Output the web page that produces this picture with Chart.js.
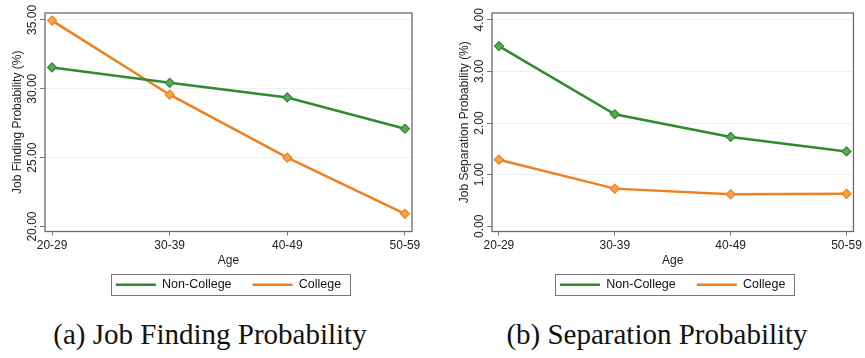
<!DOCTYPE html>
<html>

<head>
    <meta charset="utf-8">
    <title>Job Finding and Separation by Age</title>
    <style>
        body { margin: 0; background: #fff; }
        .wrap { position: relative; width: 865px; height: 358px; }
        .box { position: absolute; top: 0; height: 305px; }
        .caption {
            position: absolute; top: 316px; width: 400px; text-align: center;
            font-family: "Liberation Serif", "DejaVu Serif", serif; font-size: 29px; line-height: 36px; color: #111;
        }
    </style>
</head>

<body>
    <div class="wrap">
        <div class="box" style="left:0;width:432px"><canvas id="chartFind"></canvas></div>
        <div class="box" style="left:432px;width:433px"><canvas id="chartSep"></canvas></div>
        <div class="caption" style="left:10px">(a) Job Finding Probability</div>
        <div class="caption" style="left:457px">(b) Separation Probability</div>
    </div>
    <script src="https://cdn.jsdelivr.net/npm/chart.js@4.4.6/dist/chart.umd.min.js"></script>
    <script>
        const ageGroups = ["20-29", "30-39", "40-49", "50-59"]
        const seriesNames = ["Non-College", "College"]

        const findNonCollege = [31.55, 30.43, 29.37, 27.10]
        const findCollege = [34.95, 29.57, 25.00, 20.92]
        const findTicks = [20, 25, 30, 35]

        const sepNonCollege = [3.49, 2.17, 1.73, 1.45]
        const sepCollege = [1.29, 0.73, 0.62, 0.63]
        const sepTicks = [0, 1, 2, 3, 4]

        const GREEN = "#2f8a31"
        const GREEN_FILL = "#5ea45c"
        const ORANGE = "#f0801f"
        const ORANGE_FILL = "#f6a048"
        const FONT = "'Liberation Sans', Arial, sans-serif"

        // draws the frame round the plot, the rotated y labels and the legend box
        const decorPlugin = {
            id: "decor",
            afterDraw(chart) {
                const ctx = chart.ctx
                const a = chart.chartArea
                ctx.save()
                ctx.strokeStyle = "#6b6b6b"
                ctx.lineWidth = 1.3
                ctx.strokeRect(a.left, a.top, a.right - a.left, a.bottom - a.top)

                const y = chart.scales.y
                ctx.fillStyle = "#222"
                ctx.font = "12px " + FONT
                ctx.textAlign = "center"
                ctx.textBaseline = "middle"
                y.ticks.forEach(t => {
                    const py = y.getPixelForValue(t.value)
                    ctx.save()
                    ctx.translate(a.left - 12, py)
                    ctx.rotate(-Math.PI / 2)
                    ctx.fillText(t.value.toFixed(2), 0, 0)
                    ctx.restore()
                })

                const hb = chart.legend.legendHitBoxes
                if (hb && hb.length) {
                    const l = Math.min(...hb.map(h => h.left)) - 5
                    const r = Math.max(...hb.map(h => h.left + h.width)) + 9
                    const cy = hb[0].top + hb[0].height / 2
                    ctx.strokeStyle = "#777"
                    ctx.lineWidth = 1
                    ctx.strokeRect(Math.round(l) + 0.5, Math.round(cy - 11) + 0.5, Math.round(r - l), 21)
                }
                ctx.restore()
            },
        }

        function newChart(elementId, nonCollege, college, yTicks, yMin, yMax, yTitle, padLeft, padRight) {
            const element = document.getElementById(elementId)
            const lineColors = [GREEN, ORANGE]
            const config = {
                type: "line",
                data: {
                    datasets: [{
                        label: seriesNames[0],
                        data: nonCollege.map((v, i) => ({ x: i, y: v })),
                        borderColor: GREEN,
                        backgroundColor: GREEN_FILL,
                        pointBorderColor: GREEN,
                        pointBackgroundColor: GREEN_FILL,
                    }, {
                        label: seriesNames[1],
                        data: college.map((v, i) => ({ x: i, y: v })),
                        borderColor: ORANGE,
                        backgroundColor: ORANGE_FILL,
                        pointBorderColor: ORANGE,
                        pointBackgroundColor: ORANGE_FILL,
                    }],
                },
                options: {
                    responsive: false,
                    animation: false,
                    devicePixelRatio: 1,
                    layout: { padding: { top: 13, left: padLeft, right: padRight, bottom: 4 } },
                    elements: {
                        line: { borderWidth: 2.5, tension: 0 },
                        point: { pointStyle: "rectRot", radius: 4.5, borderWidth: 1.2 },
                    },
                    plugins: {
                        legend: {
                            position: "bottom",
                            fullSize: false,
                            labels: {
                                usePointStyle: true,
                                pointStyle: "line",
                                pointStyleWidth: 40,
                                color: "#111",
                                font: { family: FONT, size: 12.5 },
                                padding: 21,
                                generateLabels: c => {
                                    const items = Chart.defaults.plugins.legend.labels.generateLabels(c)
                                    items.forEach((it, i) => {
                                        it.lineWidth = 2.5
                                        it.strokeStyle = lineColors[i]
                                    })
                                    return items
                                },
                            },
                        },
                        tooltip: { enabled: false },
                    },
                    scales: {
                        x: {
                            type: "linear",
                            min: -0.06,
                            max: 3.06,
                            afterBuildTicks: s => { s.ticks = ageGroups.map((_, i) => ({ value: i })) },
                            afterFit: s => { s.height = 26 },
                            grid: { drawOnChartArea: false, tickLength: 4, tickColor: "#777" },
                            border: { display: false },
                            ticks: {
                                callback: v => ageGroups[v],
                                color: "#222",
                                font: { family: FONT, size: 12 },
                                padding: 3,
                                maxRotation: 0,
                            },
                            title: {
                                display: true,
                                text: "Age",
                                color: "#222",
                                font: { family: FONT, size: 12 },
                                padding: { top: 0, bottom: -10 },
                            },
                        },
                        y: {
                            min: yMin,
                            max: yMax,
                            afterBuildTicks: s => { s.ticks = yTicks.map(v => ({ value: v })) },
                            afterFit: s => { s.width = 41 },
                            grid: { color: "#e9f1f1", tickLength: 5, tickColor: "#777" },
                            border: { display: false },
                            ticks: { display: false },
                            title: {
                                display: true,
                                text: yTitle,
                                color: "#222",
                                font: { family: FONT, size: 12 },
                                padding: { top: 6, bottom: 0 },
                            },
                        },
                    },
                },
                plugins: [decorPlugin],
            }
            return new Chart(element, config)
        }

        function sizeCanvas(id, w, h) {
            const c = document.getElementById(id)
            c.width = w
            c.height = h
            c.style.width = w + "px"
            c.style.height = h + "px"
        }

        sizeCanvas("chartFind", 432, 305)
        sizeCanvas("chartSep", 433, 305)
        newChart("chartFind", findNonCollege, findCollege, findTicks, 19.64, 35.5, "Job Finding Probability (%)", 4, 20)
        newChart("chartSep", sepNonCollege, sepCollege, sepTicks, -0.1, 4.13, "Job Separation Probability (%)", 19, 8)
    </script>
</body>

</html>
